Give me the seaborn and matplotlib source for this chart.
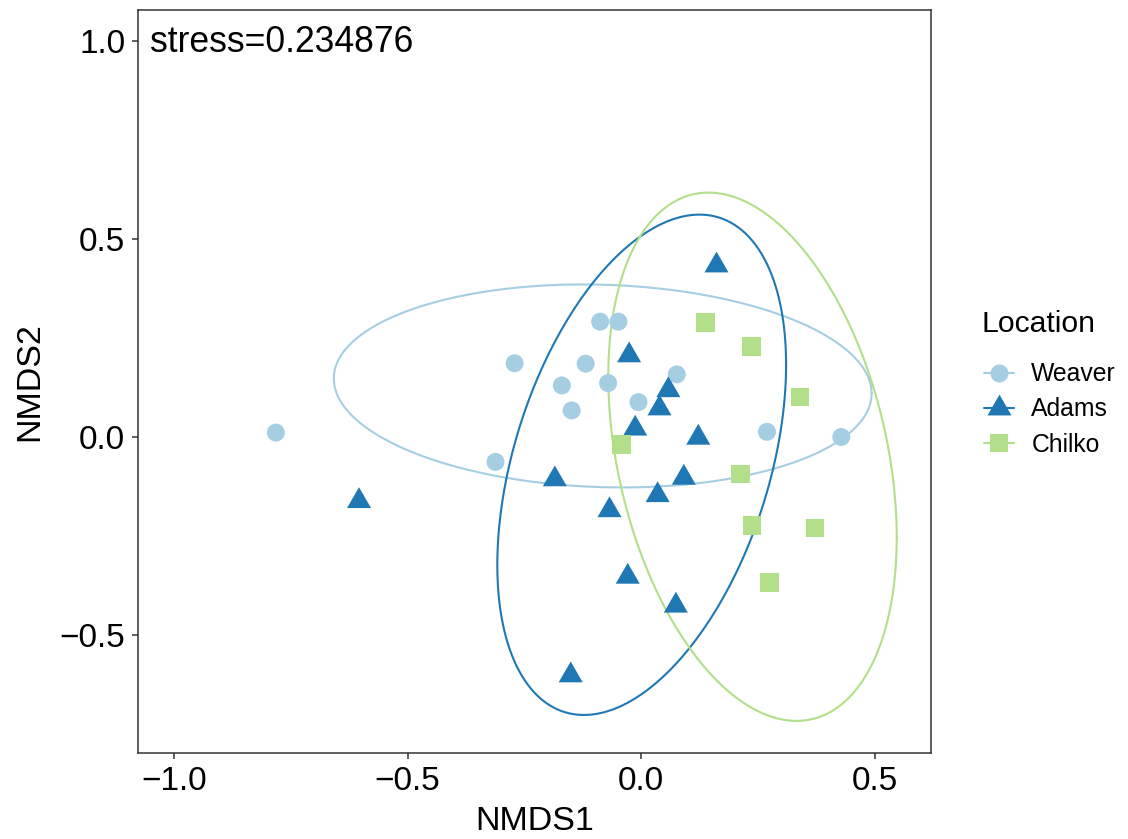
import numpy as np
import pandas as pd
import matplotlib
matplotlib.use("Agg")
import matplotlib.pyplot as plt
from matplotlib.lines import Line2D
import seaborn as sns

# ---------------- data ----------------
locations = ["Weaver", "Adams", "Chilko"]
colors = ["#A6CEE3", "#1F78B4", "#B2DF8A"]

weaver_x = [-0.782, -0.312, -0.271, -0.170, -0.149, -0.119, -0.088, -0.049, -0.071, -0.006, 0.076, 0.269, 0.428]
weaver_y = [0.011, -0.063, 0.186, 0.130, 0.067, 0.185, 0.291, 0.291, 0.136, 0.088, 0.158, 0.013, 0.000]

adams_x = [-0.604, 0.161, -0.026, 0.058, 0.039, -0.013, 0.122, -0.185, -0.068, 0.035, 0.091, -0.029, 0.074, -0.151]
adams_y = [-0.162, 0.433, 0.206, 0.118, 0.072, 0.021, -0.002, -0.107, -0.185, -0.147, -0.103, -0.353, -0.426, -0.602]

chilko_x = [0.138, 0.236, 0.340, -0.042, 0.212, 0.237, 0.372, 0.274]
chilko_y = [0.289, 0.228, 0.101, -0.019, -0.093, -0.224, -0.230, -0.367]

# 95% ellipse summaries per group: centre, x/y half-extents, correlation
ell_cx = [-0.0825, 0.0009, 0.238]
ell_cy = [0.1288, -0.0703, -0.050]
ell_rx = [0.5755, 0.309, 0.3086]
ell_ry = [0.2563, 0.6317, 0.667]
ell_r = [-0.073, 0.400, -0.305]

stress_label = "stress=0.234876"
legend_title = "Location"
xticks = [-1.0, -0.5, 0.0, 0.5]
yticks = [-0.5, 0.0, 0.5, 1.0]

# ---------------- build frame ----------------
df = pd.DataFrame({
    "NMDS1": weaver_x + adams_x + chilko_x,
    "NMDS2": weaver_y + adams_y + chilko_y,
    "Location": ["Weaver"] * len(weaver_x) + ["Adams"] * len(adams_x) + ["Chilko"] * len(chilko_x),
})

sns.set_theme(style="white")
plt.rcParams["font.family"] = ["Liberation Sans", "DejaVu Sans"]
plt.rcParams["axes.unicode_minus"] = True

W, H = 1128, 839
fig = plt.figure(figsize=(W / 100, H / 100), dpi=100, facecolor="white")
L, R, T, B = 138, 931, 10, 753
ax = fig.add_axes([L / W, 1 - B / H, (R - L) / W, (B - T) / H])

# centroid-centred equilateral triangle
tri = [(0.0, 0.5774), (-0.5, -0.2887), (0.5, -0.2887), (0.0, 0.5774)]
palette = dict(zip(locations, colors))
markers = {"Weaver": "o", "Adams": tri, "Chilko": "s"}
sizes = {"Weaver": 168, "Adams": 400, "Chilko": 178}

# ellipses
t = np.linspace(0, 2 * np.pi, 361)
for i, loc in enumerate(locations):
    ex = ell_cx[i] + ell_rx[i] * np.cos(t)
    ey = ell_cy[i] + ell_ry[i] * (ell_r[i] * np.cos(t) + np.sqrt(1 - ell_r[i] ** 2) * np.sin(t))
    ax.plot(ex, ey, color=colors[i], lw=1.5, zorder=2)

sns.scatterplot(data=df, x="NMDS1", y="NMDS2", hue="Location", style="Location",
                size="Location", hue_order=locations, style_order=locations,
                size_order=locations, palette=palette, markers=markers, sizes=sizes,
                linewidth=0, ax=ax, legend=False, zorder=3)

ax.set_xlim(-1.077, 0.620)
ax.set_ylim(-0.798, 1.078)
ax.set_xticks(xticks)
ax.set_yticks(yticks)
ax.set_xticklabels([f"{v:.1f}" if v >= 0 else "\u2212" + f"{-v:.1f}" for v in xticks])
ax.set_yticklabels([f"{v:.1f}" if v >= 0 else "\u2212" + f"{-v:.1f}" for v in yticks])
ax.tick_params(axis="both", which="major", length=4.2, width=1.1, color="#333333",
               labelsize=24, labelcolor="black", pad=5, direction="out",
               bottom=True, left=True)
for s in ax.spines.values():
    s.set_color("#333333")
    s.set_linewidth(1.1)
ax.grid(False)
ax.set_xlabel("NMDS1", fontsize=24.5, color="black", labelpad=7)
ax.set_ylabel("NMDS2", fontsize=24.5, color="black", labelpad=10)

ax.text(0.015, 0.9435, stress_label, transform=ax.transAxes, fontsize=25.6,
        ha="left", va="baseline", color="black")

# legend (marker + ellipse path key, ggplot-style)
handles = [
    Line2D([0], [0], color=colors[i], lw=1.5,
           marker=markers[loc], markersize=np.sqrt(sizes[loc]),
           markeredgewidth=0, markerfacecolor=colors[i])
    for i, loc in enumerate(locations)
]
fig.text(982 / W, 1 - 324 / H, legend_title, fontsize=21.7, ha="left", va="center",
         color="black")
leg = fig.legend(handles, locations, loc="upper left",
                 bbox_to_anchor=(972 / W, 1 - 350 / H), frameon=False,
                 fontsize=17.8, handlelength=1.2,
                 handletextpad=0.7, labelspacing=0.45, borderpad=0)
for txt in leg.get_texts():
    txt.set_color("black")

fig.savefig("out.png", dpi=100, facecolor="white")
